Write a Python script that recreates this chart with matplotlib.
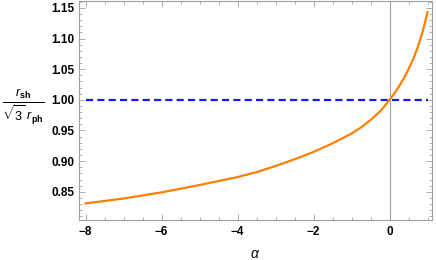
import matplotlib
matplotlib.use("Agg")
import matplotlib.pyplot as plt
from matplotlib.ticker import MultipleLocator, FixedLocator

plt.rcParams['font.family'] = ['Liberation Sans', 'DejaVu Sans']
plt.rcParams['mathtext.fontset'] = 'custom'
plt.rcParams['mathtext.rm'] = 'Liberation Sans'
plt.rcParams['mathtext.it'] = 'Liberation Sans:italic'
plt.rcParams['mathtext.bf'] = 'Liberation Sans:bold'

alpha = [-8, -7, -6, -5, -4, -3.5, -3, -2.5, -2, -1.5, -1, -0.75, -0.5, -0.25,
         -0.125, 0, 0.125, 0.25, 0.375, 0.5, 0.625, 0.75, 0.875, 1.0]
ratio = [0.831, 0.839, 0.849, 0.861, 0.874, 0.882, 0.892, 0.903, 0.915, 0.929,
         0.945, 0.955, 0.967, 0.981, 0.990, 1.000, 1.010, 1.022, 1.035, 1.050,
         1.067, 1.087, 1.112, 1.143]
ref_alpha = [-8, 1]
ref_ratio = [1.0, 1.0]
xticks = [-8, -6, -4, -2, 0]
yticks = [0.85, 0.90, 0.95, 1.00, 1.05, 1.10, 1.15]

fig = plt.figure(figsize=(4.36, 2.6), dpi=100)
ax = fig.add_axes([0.181, 0.154, 0.810, 0.844])

ax.axvline(0, color='#a0a0a0', lw=0.8, zorder=1)
ax.plot(ref_alpha, ref_ratio, color='#1a1aee', lw=1.6, dashes=(3.2, 1.9), zorder=2)
ax.plot(alpha, ratio, color='#ff8000', lw=1.6, zorder=3)

ax.set_xlim(-8.176, 1.12)
ax.set_ylim(0.804, 1.162)
ax.xaxis.set_major_locator(FixedLocator(xticks))
ax.yaxis.set_major_locator(FixedLocator(yticks))
ax.xaxis.set_minor_locator(MultipleLocator(0.5))
ax.yaxis.set_minor_locator(MultipleLocator(0.01))
ax.set_xticklabels(['\u22128', '\u22126', '\u22124', '\u22122', '0'])
ax.set_yticklabels([f'{v:.2f}' for v in yticks])

for s in ax.spines.values():
    s.set_color('#a0a0a0')
    s.set_linewidth(0.8)
ax.tick_params(which='both', direction='in', top=True, right=True,
               color='#a0a0a0', width=0.6)
ax.tick_params(which='major', length=4, labelsize=8.5)
ax.tick_params(axis='y', which='major', pad=3.5)
ax.tick_params(axis='x', which='major', pad=4.7)
ax.tick_params(which='minor', length=2)
for lab in ax.get_xticklabels() + ax.get_yticklabels():
    lab.set_fontweight('bold')

ax.set_xlabel(r'$\alpha$', fontsize=10, labelpad=6)
fig.text(0.054, 0.588,
         r'$\frac{r_{\mathbf{sh}}}{\sqrt{3}\ r_{\mathbf{ph}}}$',
         fontsize=13, ha='center', va='center')

fig.savefig('out.png', dpi=100)
